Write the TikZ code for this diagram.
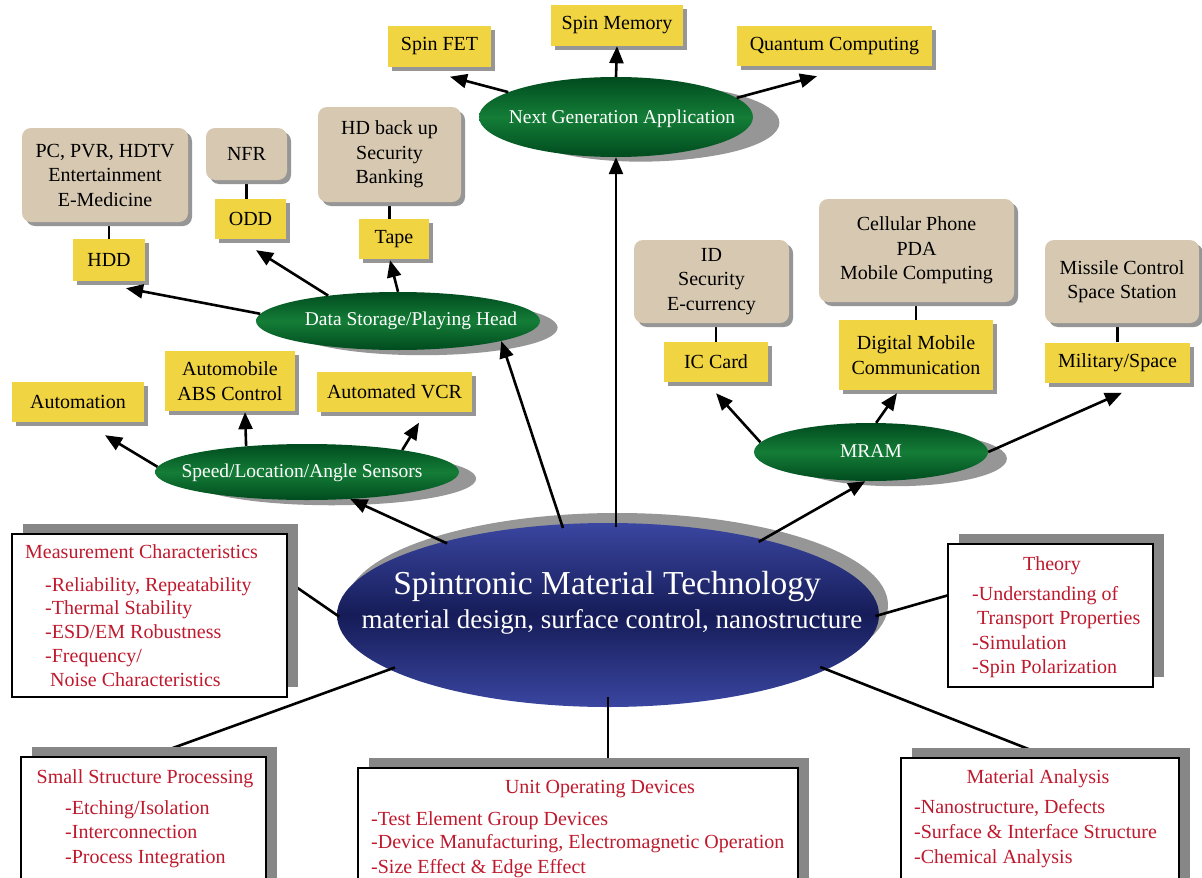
\documentclass[tikz,border=0pt]{standalone}
\usepackage{fontspec}
\setmainfont{Liberation Serif}
\usetikzlibrary{shadows,arrows.meta,calc,shapes.geometric}
\definecolor{yel}{RGB}{240,212,66}
\definecolor{tanc}{RGB}{215,201,177}
\definecolor{shd}{RGB}{150,150,150}
\definecolor{rshd}{RGB}{135,135,135}
\definecolor{rtx}{RGB}{190,25,45}
\definecolor{gL}{RGB}{20,125,55}
\definecolor{gD}{RGB}{0,75,30}
\definecolor{bA}{RGB}{58,70,160}
\definecolor{bD}{RGB}{22,28,88}
\pgfdeclarelayer{front}
\pgfdeclarelayer{top}
\pgfsetlayers{main,front,top}
\tikzset{
 ybox/.style={fill=yel, inner sep=0pt, align=center, font=\fontsize{20}{24.5}\selectfont,
   drop shadow={shadow xshift=4pt, shadow yshift=-4pt, fill=shd, opacity=1}},
 tbox/.style={ybox, fill=tanc, rounded corners=9pt},
 gell/.style={ellipse, inner sep=0pt, top color=gD, bottom color=gD, middle color=gL,
   drop shadow={shadow xshift=26pt, shadow yshift=-7pt, shadow scale=0.95, fill=shd, opacity=1}},
 gtxt/.style={text=white, inner sep=0pt, font=\fontsize{19.5}{22}\selectfont, anchor=base},
 rbox/.style={draw=black, line width=1.2pt, fill=white, inner sep=0pt,
   drop shadow={shadow xshift=11pt, shadow yshift=10pt, fill=rshd, opacity=1}},
 rtxt/.style={text=rtx, inner sep=0pt, font=\fontsize{20}{24}\selectfont, anchor=base west},
 rtit/.style={rtxt, anchor=base},
 arr/.style={line width=2.6pt, -{Triangle[length=17pt,width=14pt]}},
 lnk/.style={line width=2.6pt},
}
\begin{document}
\begin{tikzpicture}[x=1pt,y=-1pt]
\fill[white] (0,0) rectangle (1202,878);
\useasboundingbox (0,0) rectangle (1202,878);

% central ellipse
\node[ellipse, minimum width=542pt, minimum height=184pt, inner sep=0pt,
  top color=bA, bottom color=bA, middle color=bD,
  drop shadow={shadow xshift=9pt, shadow yshift=10pt, fill=shd, opacity=1}] (C) at (608,615) {};
\node[text=white, inner sep=0pt, anchor=base, font=\fontsize{33.5}{36}\selectfont] (Ct1) at (607,594) {Spintronic Material Technology};
\node[text=white, inner sep=0pt, anchor=base, font=\fontsize{27}{30}\selectfont] (Ct2) at (612,628) {material design, surface control, nanostructure};

\begin{pgfonlayer}{front}
% yellow boxes
\node[ybox, minimum width=103pt, minimum height=41pt] (spinfet) at (439.5,46.5) {Spin FET};
\node[ybox, minimum width=132pt, minimum height=41pt] (spinmem) at (617,25.5) {Spin Memory};
\node[ybox, minimum width=195pt, minimum height=40pt] (quantum) at (834.5,46) {Quantum Computing};
\node[ybox, minimum width=72pt, minimum height=42pt] (hdd) at (109,260) {HDD};
\node[ybox, minimum width=71pt, minimum height=40pt] (odd) at (250.5,219) {ODD};
\node[ybox, minimum width=70pt, minimum height=40pt] (tape) at (394,239) {Tape};
\node[ybox, minimum width=132pt, minimum height=40pt] (automation) at (78,402) {Automation};
\node[ybox, minimum width=130pt, minimum height=60pt] (abs) at (230,381) {Automobile\\ABS Control};
\node[ybox, minimum width=155pt, minimum height=40pt] (vcr) at (394.5,391.5) {Automated VCR};
\node[ybox, minimum width=104pt, minimum height=40pt] (iccard) at (716,362) {IC Card};
\node[ybox, minimum width=154pt, minimum height=70pt] (dmc) at (916,355) {Digital Mobile\\Communication};
\node[ybox, minimum width=145pt, minimum height=40pt] (milspace) at (1117.5,362.5) {Military/Space};
% tan boxes
\node[tbox, minimum width=166pt, minimum height=94pt] (pcbox) at (105,175) {PC, PVR, HDTV\\Entertainment\\E-Medicine};
\node[tbox, minimum width=81pt, minimum height=52pt] (nfr) at (246.5,154) {NFR};
\node[tbox, minimum width=143pt, minimum height=95pt] (hdbox) at (389.5,154.5) {HD back up\\Security\\Banking};
\node[tbox, minimum width=155pt, minimum height=83pt] (idbox) at (711.5,281.5) {ID\\Security\\E-currency};
\node[tbox, minimum width=195pt, minimum height=103pt] (cellbox) at (916.5,250.5) {Cellular Phone\\PDA\\Mobile Computing};
\node[tbox, minimum width=154pt, minimum height=83pt] (missile) at (1122,281.5) {Missile Control\\Space Station};
% green ellipses
\node[gell, minimum width=274pt, minimum height=80pt,
  drop shadow={shadow xshift=35pt, shadow yshift=-6pt, shadow scale=0.95, fill=shd, opacity=1}] (NGA) at (616,117) {};
\node[gell, minimum width=284pt, minimum height=58pt] (DS) at (398,321) {};
\node[gell, minimum width=304pt, minimum height=56pt] (SENS) at (307,472) {};
\node[gell, minimum width=234pt, minimum height=58pt] (MRAM) at (871,452) {};
\node[gtxt] (NGAt) at (622,123) {Next Generation Application};
\node[gtxt] (DSt) at (411,325) {Data Storage/Playing Head};
\node[gtxt] (SENSt) at (302,477) {Speed/Location/Angle Sensors};
\node[gtxt] (MRAMt) at (871,457) {MRAM};
% red boxes
\node[rbox, minimum width=275pt, minimum height=163pt] (meas) at (149.5,615.5) {};
\node[rbox, minimum width=205pt, minimum height=143pt] (theory) at (1050.5,615.5) {};
\node[rbox, minimum width=245pt, minimum height=138pt] (ssp) at (143.5,826) {};
\node[rbox, minimum width=440pt, minimum height=127pt] (unit) at (578,831.5) {};
\node[rbox, minimum width=278pt, minimum height=137pt] (mat) at (1040,826.5) {};
% red texts
\node[rtxt] (m0) at (25,558) {Measurement Characteristics};
\node[rtxt] (m1) at (45,591) {-Reliability, Repeatability};
\node[rtxt] (m2) at (45,614) {-Thermal Stability};
\node[rtxt] (m3) at (45,638) {-ESD/EM Robustness};
\node[rtxt] (m4) at (45,662) {-Frequency/};
\node[rtxt] (m5) at (50,686) {Noise Characteristics};
\node[rtit] (t0) at (1052,570) {Theory};
\node[rtxt] (t1) at (972,600) {-Understanding of};
\node[rtxt] (t2) at (977,624) {Transport Properties};
\node[rtxt] (t3) at (972,649) {-Simulation};
\node[rtxt] (t4) at (972,673) {-Spin Polarization};
\node[rtit] (s0) at (145,783) {Small Structure Processing};
\node[rtxt] (s1) at (65,814) {-Etching/Isolation};
\node[rtxt] (s2) at (65,838) {-Interconnection};
\node[rtxt] (s3) at (65,863) {-Process Integration};
\node[rtit] (u0) at (600,793) {Unit Operating Devices};
\node[rtxt] (u1) at (371,825) {-Test Element Group Devices};
\node[rtxt] (u2) at (371,848) {-Device Manufacturing, Electromagnetic Operation};
\node[rtxt] (u3) at (371,873) {-Size Effect \& Edge Effect};
\node[rtit] (a0) at (1038,783) {Material Analysis};
\node[rtxt] (a1) at (914,813) {-Nanostructure, Defects};
\node[rtxt] (a2) at (914,838) {-Surface \& Interface Structure};
\node[rtxt] (a3) at (914,863) {-Chemical Analysis};
\end{pgfonlayer}

% plain links (under boxes)
\draw[lnk] (hdd.north) -- (hdd.north |- pcbox.south);
\draw[lnk] (nfr.south) -- (nfr.south |- odd.north);
\draw[lnk] (hdbox.south) -- (hdbox.south |- tape.north);
\draw[lnk] (iccard.north) -- (iccard.north |- idbox.south);
\draw[lnk] (dmc.north) -- (dmc.north |- cellbox.south);
\draw[lnk] (milspace.north) -- (milspace.north |- missile.south);
\draw[lnk, shorten >=-3pt] (meas.14.5) -- (C.west);
\draw[lnk, shorten >=-4pt] (theory.169) -- (C.east);
\draw[lnk, shorten >=-6pt] (ssp.85) -- (C.194);
\draw[lnk, shorten <=-10pt] (C.south) -- (C.south |- unit.north);
\draw[lnk, shorten >=-7pt] (mat.82) -- (C.-14);

\begin{pgfonlayer}{top}
\draw[arr] (NGA.167) -- ($(spinfet.south)+(10.5,9.5)$);
\draw[arr] (NGA.north) -- (spinmem.south);
\draw[arr] (NGA.9.5) -- ($(quantum.south)+(-17.5,10)$);
\draw[arr, shorten <=-4pt] (C.north -| NGA.south) -- (NGA.south);
\draw[arr] (DS.177) -- ($(hdd.south)+(17,7)$);
\draw[arr] (DS.160) -- ($(odd.south)+(5.5,11)$);
\draw[arr] (DS.north) -- ($(tape.south)+(-4,1)$);
\draw[arr, shorten <=-4pt] (C.117.6) -- (DS.-11);
\draw[arr] (SENS.178) -- ($(automation.south)+(27,13)$);
\draw[arr] (SENS.157.6) -- ($(abs.south)+(15,1)$);
\draw[arr] (SENS.13) -- ($(vcr.south)+(24.5,11)$);
\draw[arr, shorten <=-4pt] (C.156.4) -- (SENS.-32);
\draw[arr] (MRAM.175.5) -- ($(iccard.south)+(0,11)$);
\draw[arr] (MRAM.80) -- ($(dmc.south)+(-19,3)$);
\draw[arr] (MRAM.east) -- ($(milspace.south)+(4.5,10)$);
\draw[arr, shorten <=-5pt] (C.26.4) -- (MRAM.-101);
\end{pgfonlayer}
\end{tikzpicture}
\end{document}
